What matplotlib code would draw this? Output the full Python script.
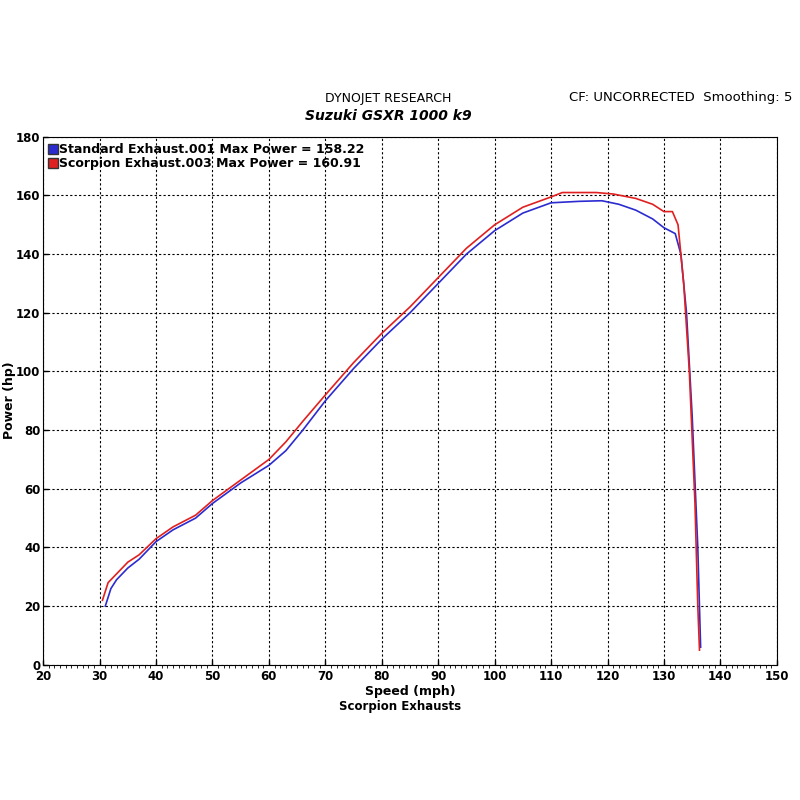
import matplotlib
matplotlib.use("Agg")
import matplotlib.pyplot as plt
from matplotlib.ticker import MultipleLocator
from matplotlib.lines import Line2D

std_x = [31,32,33,35,37,40,43,47,50,55,60,63,66,70,75,80,85,90,95,100,105,110,115,119,122,125,128,130,132,133,134,135,136,136.5]
std_y = [20,26,29,33,36,42,46,50,55,62,68,73,80,90,101,111,120,130,140,148,154,157.5,158,158.2,157,155,152,149,147,140,120,85,40,6]
sc_x = [30.5,31.5,33,35,37,40,43,47,50,55,60,63,66,70,75,80,85,90,95,100,105,110,112,118,121,125,128,130,131.5,132.5,133.5,134.5,135.5,136,136.3]
sc_y = [22,28,31,35,37.5,43,47,51,56,63,70,76,83,92,103,113,122,132,142,150,156,159.5,161,161,160.5,159,157,154.5,154.5,150,130,100,55,20,5]
labels = ["Standard Exhaust.001 Max Power = 158.22", "Scorpion Exhaust.003 Max Power = 160.91"]
colors = ["#2b2bd0", "#e02020"]

fig = plt.figure(figsize=(8, 8), dpi=100)
ax = fig.add_axes([0.054, 0.169, 0.917, 0.66])
ax.plot(std_x, std_y, color=colors[0], lw=1.2)
ax.plot(sc_x, sc_y, color=colors[1], lw=1.2)
ax.set_xlim(20, 150)
ax.set_ylim(0, 180)
ax.xaxis.set_major_locator(MultipleLocator(10))
ax.xaxis.set_minor_locator(MultipleLocator(1))
ax.yaxis.set_major_locator(MultipleLocator(20))
ax.grid(True, which="major", color="black", linestyle=(0, (2, 2)), lw=0.8)
ax.tick_params(labelsize=8.5, direction="in", width=1, pad=2)
ax.tick_params(axis="x", pad=4)
for lab in ax.get_xticklabels() + ax.get_yticklabels():
    lab.set_fontweight("bold")
ax.set_xlabel("Speed (mph)", fontsize=9, fontweight="bold", labelpad=1)
fig.text(0.012, 0.5, "Power (hp)", rotation=90, va="center", ha="center", fontsize=9, fontweight="bold")
handles = [Line2D([], [], marker="s", color="none", markerfacecolor=c, markeredgecolor="#333",
                  markersize=7) for c in colors]
ax.legend(handles, labels, loc="upper left", frameon=False, handlelength=0.6,
          handletextpad=0.2, borderaxespad=0.2, labelspacing=0.1, borderpad=0.3,
          prop={"weight": "bold", "size": 9})
fig.text(0.485, 0.872, "DYNOJET RESEARCH", ha="center", fontsize=9)
fig.text(0.485, 0.850, "Suzuki GSXR 1000 k9", ha="center", fontsize=10, fontweight="bold", style="italic")
fig.text(0.99, 0.874, "CF: UNCORRECTED  Smoothing: 5", ha="right", fontsize=9.5)
fig.text(0.5, 0.113, "Scorpion Exhausts", ha="center", fontsize=8.5, fontweight="bold")
fig.savefig("out.png", dpi=100, facecolor="white")
